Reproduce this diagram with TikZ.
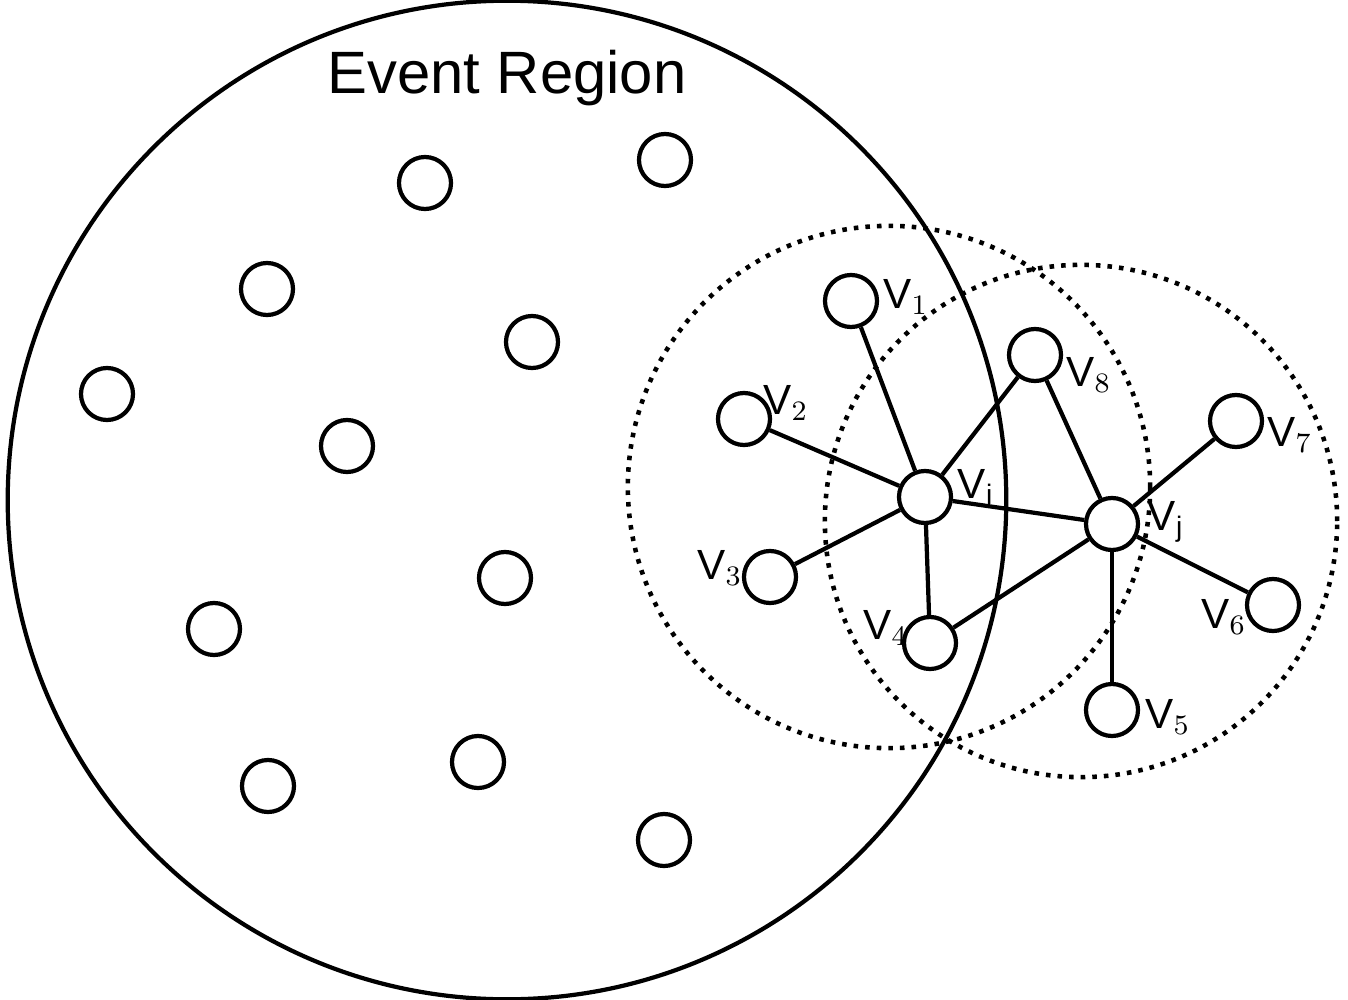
\documentclass[tikz,border=0pt]{standalone}
\usepackage{fontspec}
\setmainfont{Liberation Sans}
\usetikzlibrary{positioning}
\tikzset{
    sensor/.style={draw, circle, line width=1.2pt, minimum size=5.2mm, inner sep=0pt},
    lab/.style={font=\fontsize{12}{14}\selectfont, inner sep=1pt}
}
\begin{document}
\begin{tikzpicture}[x=0.01cm, y=-0.01cm, line width=1.2pt]
\useasboundingbox (0,0) rectangle (1348,1000);
\node[draw, circle, minimum size=9.98cm, inner sep=0pt] (R) at (507,500) {};
\node[font=\fontsize{17}{20}\selectfont] (title) at (507,78) {Event Region};
\draw[dotted, line width=1.3pt] (889,487) circle (2.61cm);
\draw[dotted, line width=1.3pt] (1081,521) circle (2.56cm);
% nodes inside the region
\foreach \x/\y [count=\n] in {665/160, 425/183, 267/289, 532/342, 107/394, 347/446,
    505/578, 214/629, 268/786, 478/762, 664/840}
    \node[sensor] (s\n) at (\x,\y) {};
% neighbourhood of v_i and v_j
\node[sensor] (vi) at (925,497) {};
\node[sensor] (vj) at (1112,524) {};
\node[sensor] (v1) at (851,301) {};
\node[sensor] (v2) at (744,419) {};
\node[sensor] (v3) at (770,577) {};
\node[sensor] (v4) at (930,643) {};
\node[sensor] (v5) at (1112,710) {};
\node[sensor] (v6) at (1273,605) {};
\node[sensor] (v7) at (1236,421) {};
\node[sensor] (v8) at (1035,355) {};
\foreach \t in {v1,v2,v3,v4,v8,vj}
    \draw (vi) -- (\t);
\foreach \t in {v8,v7,v6,v5,v4}
    \draw (vj) -- (\t);
% labels
\node[lab] (l1) at (906,297) {V$_1$};
\node[lab] (l2) at (786,403) {V$_2$};
\node[lab] (l3) at (720,568) {V$_3$};
\node[lab] (l4) at (886,628) {V$_4$};
\node[lab] (l5) at (1168,717) {V$_5$};
\node[lab] (l6) at (1224,617) {V$_6$};
\node[lab] (l7) at (1290,435) {V$_7$};
\node[lab] (l8) at (1089,375) {V$_8$};
\node[lab] (li) at (976,487) {V$_\mathrm{i}$};
\node[lab] (lj) at (1166,522) {V$_\mathrm{j}$};
\end{tikzpicture}
\end{document}
